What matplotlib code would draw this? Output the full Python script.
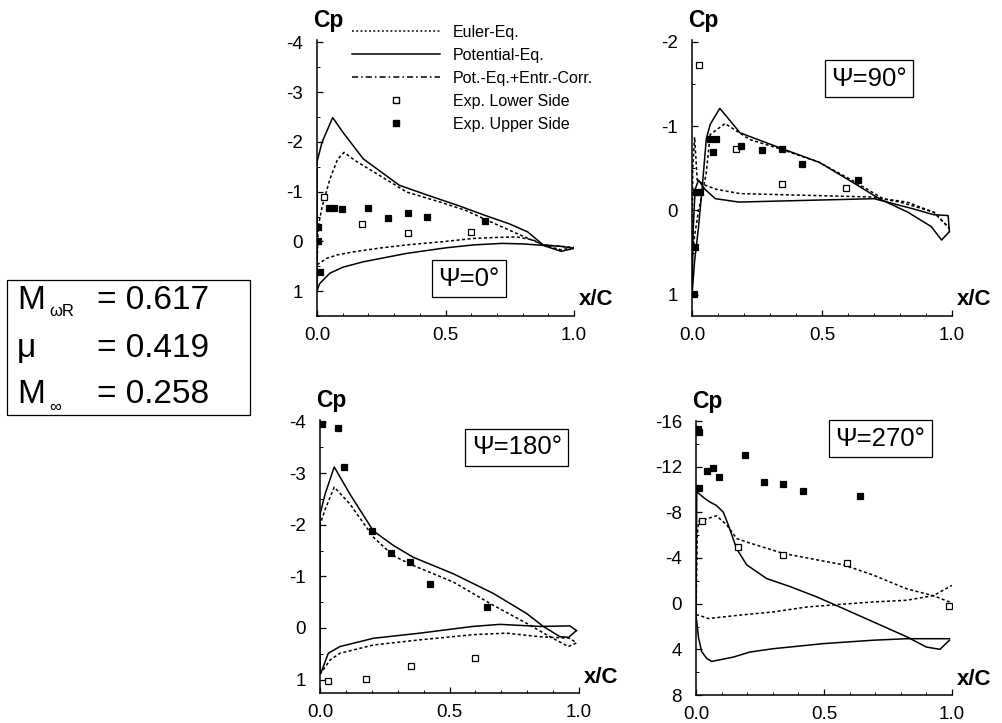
import matplotlib
matplotlib.use("Agg")
import matplotlib.pyplot as plt
from matplotlib.lines import Line2D
from matplotlib.patches import Rectangle
from matplotlib.ticker import MultipleLocator

plt.rcParams['font.family'] = ['Liberation Sans', 'DejaVu Sans']

# ---------------- data ----------------
# Psi = 0 deg
p0_pot_up_x = [0.0, 0.0, 0.02, 0.061, 0.10, 0.18, 0.32, 0.43, 0.55, 0.65, 0.75, 0.82, 0.88, 0.95, 1.0]
p0_pot_up_cp = [1.0, -1.6, -2.0, -2.49, -2.2, -1.66, -1.13, -0.93, -0.72, -0.53, -0.35, -0.19, 0.07, 0.10, 0.14]
p0_pot_lo_x = [0.0, 0.01, 0.05, 0.10, 0.18, 0.35, 0.50, 0.61, 0.72, 0.80, 0.88, 0.95, 1.0]
p0_pot_lo_cp = [1.0, 0.85, 0.64, 0.52, 0.41, 0.24, 0.13, 0.07, 0.04, 0.05, 0.08, 0.20, 0.14]
p0_eul_up_x = [0.0, 0.005, 0.02, 0.05, 0.08, 0.105, 0.15, 0.22, 0.35, 0.48, 0.58, 0.66, 0.79, 0.88, 0.95, 1.0]
p0_eul_up_cp = [0.47, -0.3, -0.7, -1.25, -1.65, -1.79, -1.62, -1.4, -0.99, -0.79, -0.62, -0.43, -0.13, 0.07, 0.10, 0.12]
p0_eul_lo_x = [0.0, 0.038, 0.08, 0.154, 0.25, 0.35, 0.5, 0.61, 0.7, 0.777, 0.84, 0.88, 0.95, 1.0]
p0_eul_lo_cp = [0.47, 0.34, 0.27, 0.2, 0.13, 0.07, 0.0, -0.06, -0.08, -0.09, -0.03, 0.07, 0.17, 0.12]
p0_low_x = [0.027, 0.174, 0.353, 0.60]
p0_low_cp = [-0.89, -0.36, -0.16, -0.18]
p0_upp_x = [0.003, 0.005, 0.012, 0.048, 0.067, 0.099, 0.2, 0.277, 0.353, 0.427, 0.654]
p0_upp_cp = [0.0, -0.29, 0.61, -0.67, -0.67, -0.65, -0.67, -0.48, -0.57, -0.49, -0.41]

# Psi = 90 deg
p90_pot_up_x = [0.0, 0.01, 0.025, 0.04, 0.055, 0.07, 0.107, 0.185, 0.34, 0.49, 0.62, 0.72, 0.83, 0.92, 0.96, 0.99]
p90_pot_up_cp = [1.0, 0.6, 0.2, -0.3, -0.85, -1.02, -1.21, -0.92, -0.74, -0.57, -0.33, -0.14, 0.02, 0.19, 0.35, 0.25]
p90_pot_lo_x = [0.0, 0.005, 0.012, 0.025, 0.05, 0.09, 0.18, 0.44, 0.7, 0.85, 0.93, 0.985, 0.99]
p90_pot_lo_cp = [1.0, 0.2, -0.25, -0.36, -0.25, -0.14, -0.1, -0.12, -0.14, -0.02, 0.05, 0.06, 0.25]
p90_eul_up_x = [0.0, 0.01, 0.025, 0.036, 0.055, 0.07, 0.127, 0.223, 0.339, 0.49, 0.62, 0.735, 0.826, 0.93, 0.99]
p90_eul_up_cp = [0.6, 0.3, 0.0, -0.14, -0.45, -0.9, -1.03, -0.84, -0.73, -0.57, -0.35, -0.14, -0.1, 0.02, 0.21]
p90_eul_lo_x = [0.0, 0.003, 0.01, 0.02, 0.05, 0.095, 0.185, 0.44, 0.69, 0.8, 0.93, 0.99]
p90_eul_lo_cp = [0.6, -0.5, -0.87, -0.36, -0.3, -0.25, -0.2, -0.18, -0.16, -0.1, 0.02, 0.21]
p90_low_x = [0.027, 0.17, 0.345, 0.593]
p90_low_cp = [-1.72, -0.73, -0.31, -0.27]
p90_upp_x = [0.009, 0.013, 0.017, 0.032, 0.08, 0.069, 0.094, 0.19, 0.268, 0.345, 0.422, 0.64]
p90_upp_cp = [0.99, 0.43, -0.22, -0.22, -0.69, -0.85, -0.85, -0.76, -0.72, -0.73, -0.55, -0.36]

# Psi = 180 deg
p180_pot_up_x = [0.0, 0.0, 0.02, 0.055, 0.116, 0.206, 0.283, 0.36, 0.515, 0.669, 0.798, 0.862, 0.927, 0.96, 0.99]
p180_pot_up_cp = [0.85, -2.2, -2.6, -3.12, -2.59, -1.88, -1.6, -1.37, -1.05, -0.67, -0.28, -0.03, 0.17, 0.18, 0.05]
p180_pot_lo_x = [0.0, 0.006, 0.032, 0.077, 0.206, 0.386, 0.59, 0.695, 0.85, 0.965, 0.99]
p180_pot_lo_cp = [0.85, 0.84, 0.49, 0.36, 0.2, 0.1, -0.03, -0.07, -0.03, -0.04, 0.05]
p180_eul_up_x = [0.0, 0.0, 0.02, 0.055, 0.116, 0.206, 0.283, 0.36, 0.515, 0.669, 0.798, 0.888, 0.959, 0.99]
p180_eul_up_cp = [0.9, -2.0, -2.3, -2.73, -2.4, -1.76, -1.4, -1.21, -0.89, -0.44, -0.09, 0.17, 0.36, 0.29]
p180_eul_lo_x = [0.0, 0.039, 0.077, 0.206, 0.386, 0.59, 0.72, 0.85, 0.965, 0.99]
p180_eul_lo_cp = [0.9, 0.62, 0.49, 0.33, 0.23, 0.13, 0.1, 0.17, 0.2, 0.29]
p180_low_x = [0.032, 0.178, 0.353, 0.6]
p180_low_cp = [1.03, 0.99, 0.74, 0.58]
p180_upp_x = [0.006, 0.068, 0.093, 0.2, 0.273, 0.349, 0.424, 0.645]
p180_upp_cp = [-3.95, -3.87, -3.12, -1.87, -1.45, -1.28, -0.85, -0.41]

# Psi = 270 deg
p270_pot_up_x = [0.0, 0.003, 0.035, 0.055, 0.08, 0.107, 0.126, 0.159, 0.198, 0.276, 0.367, 0.471, 0.5625, 0.693, 0.823, 0.90, 0.953, 0.99]
p270_pot_up_cp = [1.0, -9.8, -9.2, -8.9, -8.6, -8.0, -6.9, -4.8, -3.4, -2.2, -1.5, -0.6, 0.3, 1.6, 2.9, 3.8, 4.0, 3.2]
p270_pot_lo_x = [0.0, 0.01, 0.022, 0.042, 0.061, 0.146, 0.21, 0.3, 0.497, 0.693, 0.823, 0.99]
p270_pot_lo_cp = [1.0, 3.0, 4.2, 4.8, 5.06, 4.68, 4.24, 3.95, 3.5, 3.2, 3.07, 3.07]
p270_eul_up_x = [0.0, 0.005, 0.01, 0.08, 0.12, 0.159, 0.198, 0.341, 0.576, 0.693, 0.823, 0.927, 0.99, 1.0]
p270_eul_up_cp = [1.0, -6.0, -7.2, -7.7, -6.9, -5.7, -5.4, -4.4, -3.4, -2.5, -1.3, -0.7, -0.15, 0.2]
p270_eul_lo_x = [0.0, 0.01, 0.048, 0.172, 0.3, 0.43, 0.5625, 0.693, 0.823, 0.927, 1.0]
p270_eul_lo_cp = [1.0, 1.0, 1.3, 1.0, 0.73, 0.3, 0.06, -0.15, -0.3, -0.7, -1.6]
p270_low_x = [0.022, 0.165, 0.341, 0.589, 0.99]
p270_low_cp = [-7.2, -5.0, -4.3, -3.6, 0.2]
p270_upp_x = [0.007, 0.013, 0.013, 0.042, 0.065, 0.091, 0.191, 0.266, 0.339, 0.419, 0.64]
p270_upp_cp = [-15.3, -15.0, -10.1, -11.6, -11.9, -11.1, -13.0, -10.7, -10.5, -9.9, -9.4]

psi_labels = ["Ψ=0°", "Ψ=90°", "Ψ=180°", "Ψ=270°"]
y_ticks = [[-4, -3, -2, -1, 0, 1], [-2, -1, 0, 1], [-4, -3, -2, -1, 0, 1], [-16, -12, -8, -4, 0, 4, 8]]
y_limits = [(1.5, -4.05), (1.25, -2.02), (1.26, -4.03), (8, -16)]
x_ticks = [0.0, 0.5, 1.0]
x_ticklabels = ["0.0", "0.5", "1.0"]
legend_labels = ["Euler-Eq.", "Potential-Eq.", "Pot.-Eq.+Entr.-Corr.", "Exp. Lower Side", "Exp. Upper Side"]
params_names = ["M", "μ", "M"]
params_subs = ["ωR", "", "∞"]
params_values = ["= 0.617", "= 0.419", "= 0.258"]

panels = [
    (p0_pot_up_x, p0_pot_up_cp, p0_pot_lo_x, p0_pot_lo_cp, p0_eul_up_x, p0_eul_up_cp, p0_eul_lo_x, p0_eul_lo_cp,
     p0_low_x, p0_low_cp, p0_upp_x, p0_upp_cp),
    (p90_pot_up_x, p90_pot_up_cp, p90_pot_lo_x, p90_pot_lo_cp, p90_eul_up_x, p90_eul_up_cp, p90_eul_lo_x, p90_eul_lo_cp,
     p90_low_x, p90_low_cp, p90_upp_x, p90_upp_cp),
    (p180_pot_up_x, p180_pot_up_cp, p180_pot_lo_x, p180_pot_lo_cp, p180_eul_up_x, p180_eul_up_cp, p180_eul_lo_x, p180_eul_lo_cp,
     p180_low_x, p180_low_cp, p180_upp_x, p180_upp_cp),
    (p270_pot_up_x, p270_pot_up_cp, p270_pot_lo_x, p270_pot_lo_cp, p270_eul_up_x, p270_eul_up_cp, p270_eul_lo_x, p270_eul_lo_cp,
     p270_low_x, p270_low_cp, p270_upp_x, p270_upp_cp),
]

# ---------------- figure ----------------
W, H = 1003, 723
fig = plt.figure(figsize=(W / 100, H / 100), dpi=100)

def px_rect(l, r, t, b):
    return [l / W, 1 - b / H, (r - l) / W, (b - t) / H]

axes_px = [(317, 574, 40, 316), (692, 952, 40, 316), (320, 579, 420, 693), (696, 952, 421, 695)]
psi_box_pos = [(0.59, 0.135), (0.68, 0.86), (0.76, 0.9), (0.72, 0.935)]

euler_dash = (0, (2.0, 1.6))
lw = 1.1

for i, (rect, data) in enumerate(zip(axes_px, panels)):
    ax = fig.add_axes(px_rect(*rect))
    (pux, puc, plx, plc, eux, euc, elx, elc, lx, lc, ux, uc) = data
    ax.plot(pux, puc, color='black', lw=lw, solid_joinstyle='round')
    ax.plot(plx, plc, color='black', lw=lw, solid_joinstyle='round')
    ax.plot(eux, euc, color='black', lw=lw, linestyle=euler_dash)
    ax.plot(elx, elc, color='black', lw=lw, linestyle=euler_dash)
    ax.plot(lx, lc, linestyle='none', marker='s', ms=4.2, mfc='white', mec='black', mew=0.9)
    ax.plot(ux, uc, linestyle='none', marker='s', ms=4.2, mfc='black', mec='black', mew=0.9)
    ax.set_xlim(0, 1.0)
    ax.set_ylim(*y_limits[i])
    ax.set_yticks(y_ticks[i])
    ax.set_yticklabels([str(v) for v in y_ticks[i]])
    ax.set_xticks(x_ticks)
    ax.set_xticklabels(x_ticklabels)
    ax.xaxis.set_minor_locator(MultipleLocator(0.1))
    ystep = y_ticks[i][1] - y_ticks[i][0]
    ax.yaxis.set_minor_locator(MultipleLocator(ystep / 2))
    for s in ['top', 'right']:
        ax.spines[s].set_visible(False)
    for s in ['left', 'bottom']:
        ax.spines[s].set_linewidth(1.1)
    ax.tick_params(which='major', direction='in', length=4, width=0.9, labelsize=13.5)
    ax.tick_params(axis='y', which='major', pad=10)
    ax.tick_params(axis='x', which='major', pad=8)
    ax.tick_params(which='minor', direction='in', length=2, width=0.7)
    ax.patch.set_alpha(0)
    ax.text(-0.015, 1.03, "Cp", transform=ax.transAxes, fontsize=16.5, ha='left', va='bottom', fontweight='bold')
    ax.text(1.02, 0.02, "x/C", transform=ax.transAxes, fontsize=16, ha='left', va='bottom', fontweight='bold')
    bx, by = psi_box_pos[i]
    ax.text(bx, by, psi_labels[i], transform=ax.transAxes, fontsize=18.5, ha='center', va='center',
            bbox=dict(boxstyle='square,pad=0.25', fc='white', ec='black', lw=0.9))
    if i == 0:
        handles = [
            Line2D([], [], color='black', lw=lw, linestyle=(0, (1.2, 1.6))),
            Line2D([], [], color='black', lw=lw),
            Line2D([], [], color='black', lw=lw, linestyle=(0, (4, 2, 1, 2))),
            Line2D([], [], linestyle='none', marker='s', ms=4.2, mfc='white', mec='black'),
            Line2D([], [], linestyle='none', marker='s', ms=4.2, mfc='black', mec='black'),
        ]
        ax.legend(handles, legend_labels, loc='upper left', bbox_to_anchor=(0.136, 1.055),
                  frameon=False, fontsize=11.5, handlelength=5.5, handletextpad=0.8,
                  labelspacing=0.5, borderaxespad=0, borderpad=0)

# parameter box
fig.add_artist(Rectangle((7 / W, 1 - 415 / H), (250 - 7) / W, (415 - 280) / H, transform=fig.transFigure,
                         fill=False, ec='black', lw=0.9))
line_y = [300, 348, 395]
for name, sub, val, yy in zip(params_names, params_subs, params_values, line_y):
    fig.text(17 / W, 1 - yy / H, name, fontsize=24, ha='left', va='center')
    if sub:
        fig.text(49 / W, 1 - (yy + 12) / H, sub, fontsize=12, ha='left', va='center')
    fig.text(97 / W, 1 - yy / H, val, fontsize=24, ha='left', va='center')

fig.savefig("out.png", dpi=100)
